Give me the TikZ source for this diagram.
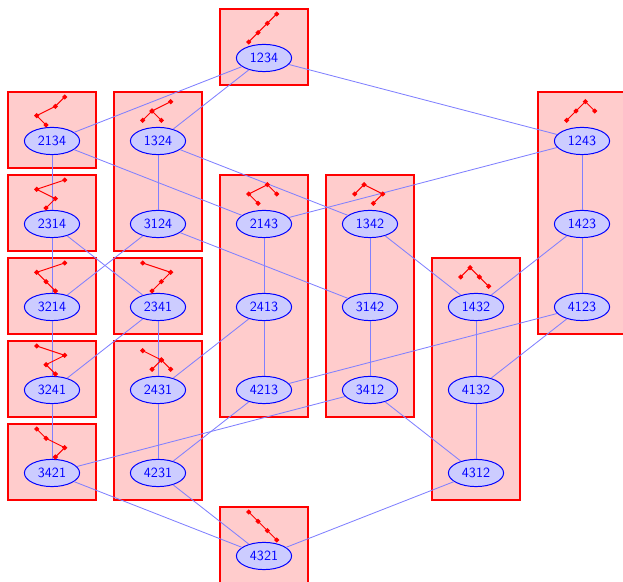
\documentclass[tikz,border=0pt]{standalone}
\usepackage{tikz}
\usetikzlibrary{shapes.geometric}

\tikzset{
  classbox/.style={draw=red, line width=1.3pt, fill=red!20},
  perm/.style={ellipse, draw=blue, line width=0.7pt, fill=blue!20, text=blue, font=\sffamily, inner sep=0pt, minimum width=1.38cm, minimum height=0.68cm},
  cover/.style={blue!50, semithick},
  tree/.style={red, line width=0.7pt, mark=*, mark size=1.4pt, mark options={fill=red}, x=0.2333cm, y=0.2333cm, xshift=-0.3825cm, yshift=0.4cm}
}

\begin{document}
\begin{tikzpicture}
\useasboundingbox (0, 0) rectangle (15.575, 14.55);
% classes
\draw[classbox] (5.51, 14.33) rectangle (7.69, 12.43);
\draw[classbox] (0.21, 12.255) rectangle (2.39, 10.355);
\draw[classbox] (0.21, 10.18) rectangle (2.39, 8.28);
\draw[classbox] (0.21, 8.105) rectangle (2.39, 6.205);
\draw[classbox] (0.21, 6.03) rectangle (2.39, 4.13);
\draw[classbox] (0.21, 3.955) rectangle (2.39, 2.055);
\draw[classbox] (2.86, 12.255) rectangle (5.04, 8.28);
\draw[classbox] (2.86, 8.105) rectangle (5.04, 6.205);
\draw[classbox] (2.86, 6.03) rectangle (5.04, 2.055);
\draw[classbox] (5.51, 10.18) rectangle (7.69, 4.13);
\draw[classbox] (5.51, 1.88) rectangle (7.69, -0.5);
\draw[classbox] (8.16, 10.18) rectangle (10.34, 4.13);
\draw[classbox] (10.81, 8.105) rectangle (12.99, 2.055);
\draw[classbox] (13.46, 12.255) rectangle (16, 6.205);
% permutations
\node[perm] (n1234) at (6.6, 13.1) {1234};
\node[perm] (n2134) at (1.3, 11.025) {2134};
\node[perm] (n1324) at (3.95, 11.025) {1324};
\node[perm] (n1243) at (14.55, 11.025) {1243};
\node[perm] (n2314) at (1.3, 8.95) {2314};
\node[perm] (n3124) at (3.95, 8.95) {3124};
\node[perm] (n2143) at (6.6, 8.95) {2143};
\node[perm] (n1342) at (9.25, 8.95) {1342};
\node[perm] (n1423) at (14.55, 8.95) {1423};
\node[perm] (n3214) at (1.3, 6.875) {3214};
\node[perm] (n2341) at (3.95, 6.875) {2341};
\node[perm] (n2413) at (6.6, 6.875) {2413};
\node[perm] (n3142) at (9.25, 6.875) {3142};
\node[perm] (n1432) at (11.9, 6.875) {1432};
\node[perm] (n4123) at (14.55, 6.875) {4123};
\node[perm] (n3241) at (1.3, 4.8) {3241};
\node[perm] (n2431) at (3.95, 4.8) {2431};
\node[perm] (n4213) at (6.6, 4.8) {4213};
\node[perm] (n3412) at (9.25, 4.8) {3412};
\node[perm] (n4132) at (11.9, 4.8) {4132};
\node[perm] (n3421) at (1.3, 2.725) {3421};
\node[perm] (n4231) at (3.95, 2.725) {4231};
\node[perm] (n4312) at (11.9, 2.725) {4312};
\node[perm] (n4321) at (6.6, 0.65) {4321};
% covers
\draw[cover] (n1234) -- (n2134);
\draw[cover] (n1234) -- (n1324);
\draw[cover] (n1234) -- (n1243);
\draw[cover] (n2134) -- (n2314);
\draw[cover] (n2134) -- (n2143);
\draw[cover] (n1324) -- (n3124);
\draw[cover] (n1324) -- (n1342);
\draw[cover] (n1243) -- (n2143);
\draw[cover] (n1243) -- (n1423);
\draw[cover] (n2314) -- (n3214);
\draw[cover] (n2314) -- (n2341);
\draw[cover] (n3124) -- (n3214);
\draw[cover] (n3124) -- (n3142);
\draw[cover] (n2143) -- (n2413);
\draw[cover] (n1342) -- (n3142);
\draw[cover] (n1342) -- (n1432);
\draw[cover] (n1423) -- (n1432);
\draw[cover] (n1423) -- (n4123);
\draw[cover] (n3214) -- (n3241);
\draw[cover] (n2341) -- (n3241);
\draw[cover] (n2341) -- (n2431);
\draw[cover] (n2413) -- (n2431);
\draw[cover] (n2413) -- (n4213);
\draw[cover] (n3142) -- (n3412);
\draw[cover] (n1432) -- (n4132);
\draw[cover] (n4123) -- (n4213);
\draw[cover] (n4123) -- (n4132);
\draw[cover] (n3241) -- (n3421);
\draw[cover] (n2431) -- (n4231);
\draw[cover] (n4213) -- (n4231);
\draw[cover] (n3412) -- (n3421);
\draw[cover] (n3412) -- (n4312);
\draw[cover] (n4132) -- (n4312);
\draw[cover] (n3421) -- (n4321);
\draw[cover] (n4231) -- (n4321);
\draw[cover] (n4312) -- (n4321);
% trees
\draw[shift={(n1234)}, tree] plot coordinates {(0, 0) (1, 1) (2, 2) (3, 3)};
\draw[shift={(n2134)}, tree] plot coordinates {(1, 0) (0, 1) (2, 2) (3, 3)};
\draw[shift={(n2314)}, tree] plot coordinates {(1, 0) (2, 1) (0, 2) (3, 3)};
\draw[shift={(n3214)}, tree] plot coordinates {(2, 0) (1, 1) (0, 2) (3, 3)};
\draw[shift={(n3241)}, tree] plot coordinates {(2, 0) (1, 1) (3, 2) (0, 3)};
\draw[shift={(n3421)}, tree] plot coordinates {(2, 0) (3, 1) (1, 2) (0, 3)};
\draw[shift={(n2341)}, tree] plot coordinates {(1, 0) (2, 1) (3, 2) (0, 3)};
\draw[shift={(n4321)}, tree] plot coordinates {(3, 0) (2, 1) (1, 2) (0, 3)};
\draw[shift={(n1324)}, tree] plot coordinates {(0, 0.5) (1, 1.5) (3, 2.5)} plot coordinates {(2, 0.5) (1, 1.5)};
\draw[shift={(n2431)}, tree] plot coordinates {(1, 0.5) (2, 1.5) (0, 2.5)} plot coordinates {(3, 0.5) (2, 1.5)};
\draw[shift={(n2143)}, tree] plot coordinates {(1, 0.5) (0, 1.5) (2, 2.5) (3, 1.5)};
\draw[shift={(n1342)}, tree] plot coordinates {(2, 0.5) (3, 1.5) (1, 2.5) (0, 1.5)};
\draw[shift={(n1432)}, tree] plot coordinates {(3, 0.5) (2, 1.5) (1, 2.5) (0, 1.5)};
\draw[shift={(n1243)}, tree] plot coordinates {(0, 0.5) (1, 1.5) (2, 2.5) (3, 1.5)};
\end{tikzpicture}
\end{document}
